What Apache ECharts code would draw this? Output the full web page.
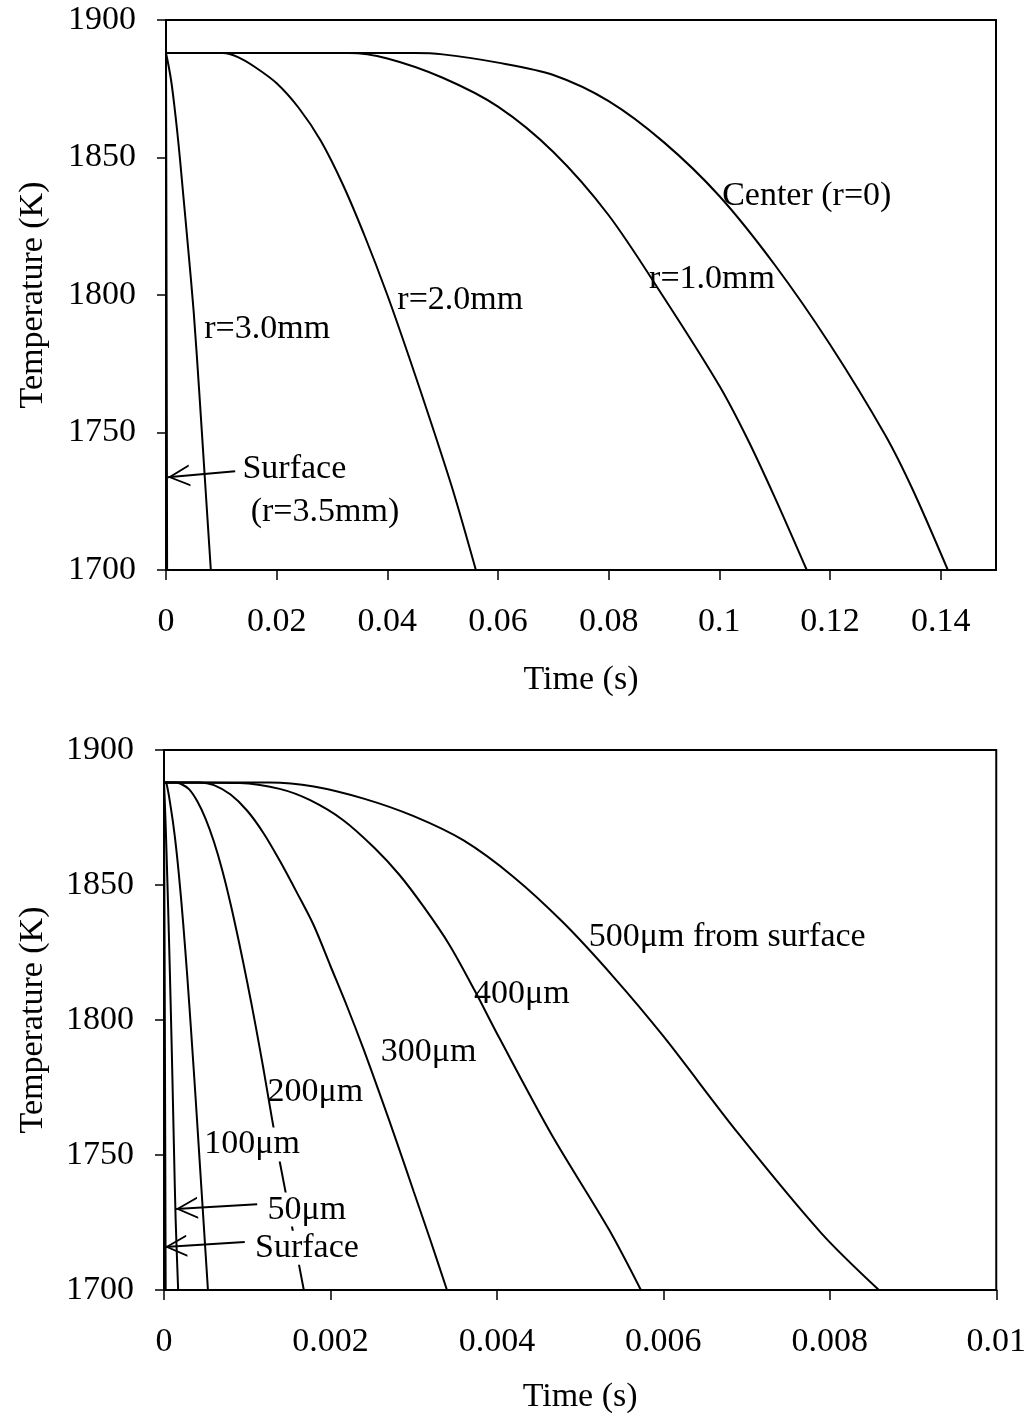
<!DOCTYPE html>
<html>
<head>
<meta charset="utf-8">
<script src="https://cdn.jsdelivr.net/npm/echarts@6/dist/echarts.min.js"></script>
<style>
html,body{margin:0;padding:0;background:#fff;}
#chart{width:1029px;height:1419px;}
</style>
</head>
<body>
<div id="chart"></div>
<script>
// ---------- Data (time in s, temperature in K) ----------
const yTicks = [1700, 1750, 1800, 1850, 1900];
const topXTicks = [0, 0.02, 0.04, 0.06, 0.08, 0.1, 0.12, 0.14];
const botXTicks = [0, 0.002, 0.004, 0.006, 0.008, 0.01];

// Top panel: radial positions
const topSurface = [[0,1888],[0.0001,1800],[0.0002,1700]];
const topR30 = [[0,1888],[0.0005,1883],[0.001,1877],[0.0015,1869],[0.002,1860],[0.0025,1850],[0.003,1839],[0.004,1817],[0.005,1794],[0.006,1765],[0.007,1734],[0.0081,1700]];
const topR20 = [[0,1888],[0.0103,1888],[0.013,1886.5],[0.016,1883],[0.02,1877],[0.024,1868],[0.028,1856],[0.032,1840],[0.036,1821],[0.04,1800],[0.044,1777],[0.048,1753],[0.052,1728],[0.056,1700]];
const topR10 = [[0,1888],[0.033,1888],[0.04,1886],[0.05,1879],[0.06,1868.5],[0.07,1852],[0.08,1829],[0.09,1799],[0.1,1767],[0.105,1748],[0.11,1726.5],[0.1158,1700]];
const topCenter = [[0,1888],[0.045,1888],[0.05,1887.5],[0.06,1884.5],[0.07,1880],[0.08,1870.5],[0.09,1855.5],[0.1,1836],[0.11,1811],[0.12,1782],[0.13,1749],[0.135,1729],[0.1413,1700]];

// Bottom panel: depth from surface
const botSurface = [[0,1888],[0.00001,1800],[0.00002,1700]];
const bot50 = [[0,1888],[0.00002,1872],[0.00004,1852],[0.00006,1830],[0.00008,1806],[0.0001,1780],[0.00012,1752],[0.00014,1726],[0.00017,1700]];
const bot100 = [[0,1888],[0.00003,1887.5],[0.00008,1879],[0.00013,1868],[0.00018,1853.5],[0.00023,1836],[0.00028,1816],[0.00033,1794],[0.00038,1771],[0.00043,1747],[0.00048,1723],[0.000528,1700]];
const bot200 = [[0,1888],[0.00013,1888],[0.0002,1887.5],[0.0003,1885.5],[0.0004,1881],[0.0005,1874.5],[0.0006,1866],[0.0007,1855.5],[0.0008,1843],[0.0009,1829],[0.001,1814],[0.0011,1798],[0.0012,1781],[0.0013,1763],[0.0014,1746],[0.0015,1730],[0.0016,1713],[0.00168,1700]];
const bot300 = [[0,1888],[0.00043,1888],[0.0006,1887],[0.0008,1883.5],[0.001,1877.5],[0.0012,1869],[0.0014,1858.5],[0.0016,1847],[0.0018,1835],[0.002,1820],[0.0022,1805],[0.0024,1789],[0.0026,1772],[0.0028,1754.5],[0.003,1736.5],[0.0032,1718.5],[0.0034,1700]];
const bot400 = [[0,1888],[0.00091,1887.8],[0.00139,1885.6],[0.00175,1881.5],[0.00215,1874.1],[0.00253,1863.7],[0.00283,1853.7],[0.00313,1841.5],[0.00343,1827.8],[0.00373,1811.1],[0.00403,1793.3],[0.00466,1757.4],[0.00535,1722.2],[0.00573,1700]];
const bot500 = [[0,1888],[0.00127,1888],[0.0018,1886.5],[0.0024,1882],[0.003,1875.5],[0.0036,1866.5],[0.0042,1853],[0.0048,1836],[0.0054,1816],[0.006,1794],[0.0069,1758],[0.0079,1721],[0.00859,1700]];

// Annotation texts and their anchor points (data coords, left-middle of text)
const topNoteTexts = ['Center (r=0)', 'r=1.0mm', 'r=2.0mm', 'r=3.0mm', 'Surface', '(r=3.5mm)'];
const topNoteAt = [[0.1006,1835.7],[0.0874,1805.6],[0.0419,1798],[0.007,1787.5],[0.0139,1736.6],[0.0154,1720.7]];
const topArrows = [[[0.0125,1735.9],[0.0003,1733.7]]];

const botNoteTexts = ['500μm from surface', '400μm', '300μm', '200μm', '100μm', '50μm', 'Surface'];
const botNoteAt = [[0.00511,1830.4],[0.00373,1809.3],[0.00261,1787.8],[0.00125,1773.3],[0.00049,1753.7],[0.00125,1729.6],[0.0011,1715.5]];
const botNoteOpaque = [false, false, false, false, true, true, true];
const botArrows = [[[0.00112,1731.8],[0.00014,1730]], [[0.00097,1717.8],[0.00001,1715.9]]];

// ---------- Chart ----------
const FONT = "'Liberation Serif','Times New Roman',serif";
const FS = 34;
const ARROW = 'path://M0,10 L5,0 L10,10 L9.1,10 L5,1.8 L0.9,10 Z M5,-10 L5.02,-10 L5,-9.98 Z';

function xAxisCfg(gridIndex, max, ticks, labelMargin, nameGap) {
  return {
    type: 'value', gridIndex, min: 0, max,
    name: 'Time (s)', nameLocation: 'middle', nameGap,
    nameTextStyle: {fontFamily: FONT, fontSize: FS, color: '#000'},
    axisLine: {show: true, onZero: false, lineStyle: {color: '#000', width: 2}},
    axisTick: {show: true, inside: false, length: 10, lineStyle: {color: '#000', width: 1.5}, customValues: ticks},
    axisLabel: {show: true, margin: labelMargin, fontFamily: FONT, fontSize: FS, color: '#000', customValues: ticks,
      formatter: v => String(+(+v).toFixed(6))},
    splitLine: {show: false}
  };
}
function yAxisCfg(gridIndex, nameGap) {
  return {
    type: 'value', gridIndex, min: 1700, max: 1900, interval: 50,
    name: 'Temperature (K)', nameLocation: 'middle', nameGap,
    nameTextStyle: {fontFamily: FONT, fontSize: FS, color: '#000'},
    axisLine: {show: true, onZero: false, lineStyle: {color: '#000', width: 2}},
    axisTick: {show: true, inside: false, length: 9, lineStyle: {color: '#000', width: 1.5}, customValues: yTicks},
    axisLabel: {show: true, margin: 30, fontFamily: FONT, fontSize: FS, color: '#000', customValues: yTicks,
      formatter: v => String(Math.round(+v))},
    splitLine: {show: false}
  };
}
function curve(data, idx) {
  return {
    type: 'line', xAxisIndex: idx, yAxisIndex: idx, data,
    showSymbol: false, symbol: 'none', smooth: 0.3,
    lineStyle: {color: '#000', width: 2}, silent: true, z: 2, clip: true
  };
}
function notes(texts, at, opaque, arrows, idx) {
  return {
    type: 'scatter', xAxisIndex: idx, yAxisIndex: idx, z: 5, silent: true,
    symbolSize: 1, itemStyle: {color: '#fff', opacity: 0},
    data: texts.map((t, i) => ({
      value: at[i], name: t,
      label: {
        show: true, formatter: t, position: [0, 0], align: 'left', verticalAlign: 'middle',
        fontFamily: FONT, fontSize: FS, color: '#000', opacity: 1,
        textBorderWidth: 0, textShadowBlur: 0,
        backgroundColor: opaque && opaque[i] ? '#fff' : 'transparent',
        padding: [0, 0, 0, 0]
      }
    })),
    markLine: {
      silent: true, animation: false,
      symbol: ['none', ARROW], symbolSize: [22, 44],
      lineStyle: {color: '#000', width: 2, type: 'solid', opacity: 1},
      itemStyle: {color: '#000', opacity: 1},
      label: {show: false},
      emphasis: {disabled: true},
      data: arrows.map(a => [{coord: a[0]}, {coord: a[1]}])
    }
  };
}

const chart = echarts.init(document.getElementById('chart'), null, {renderer: 'canvas'});
chart.setOption({
  animation: false,
  backgroundColor: '#fff',
  grid: [
    {left: 166, top: 20, width: 830, height: 550, show: true, borderColor: '#000', borderWidth: 2, containLabel: false},
    {left: 164, top: 750, width: 834, height: 540, show: true, borderColor: '#000', borderWidth: 2, containLabel: false}
  ],
  xAxis: [xAxisCfg(0, 0.15, topXTicks, 35, 93), xAxisCfg(1, 0.01, botXTicks, 35, 90)],
  yAxis: [yAxisCfg(0, 116), yAxisCfg(1, 114)],
  series: [
    curve(topSurface, 0), curve(topR30, 0), curve(topR20, 0), curve(topR10, 0), curve(topCenter, 0),
    curve(botSurface, 1), curve(bot50, 1), curve(bot100, 1), curve(bot200, 1), curve(bot300, 1), curve(bot400, 1), curve(bot500, 1),
    notes(topNoteTexts, topNoteAt, null, topArrows, 0),
    notes(botNoteTexts, botNoteAt, botNoteOpaque, botArrows, 1)
  ]
});
</script>
</body>
</html>
